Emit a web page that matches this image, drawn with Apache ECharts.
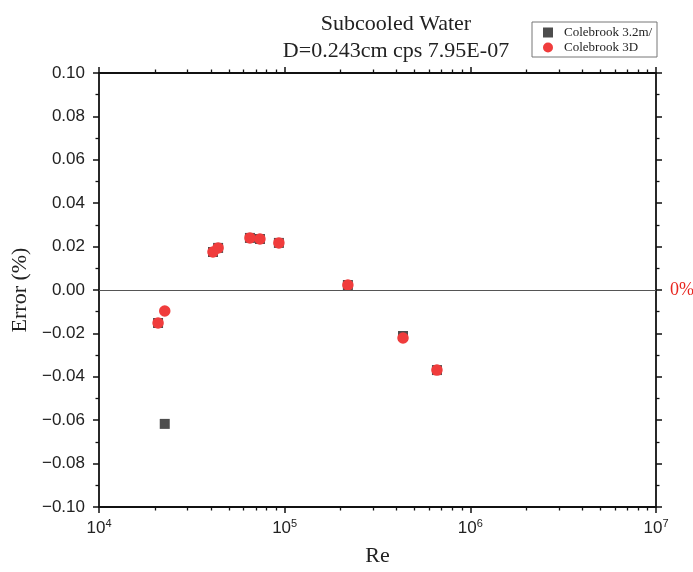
<!DOCTYPE html>
<html><head><meta charset="utf-8">
<script src="https://cdn.jsdelivr.net/npm/echarts@6/dist/echarts.min.js"></script>
<style>html,body{margin:0;padding:0;background:#fff}#c{width:693px;height:572px}</style>
</head><body><div id="c"></div>
<script>
const re = [20800, 22600, 41100, 43800, 65000, 73600, 93100, 219000, 434000, 661000];
const err32 = [-0.0152, -0.0617, 0.0175, 0.0194, 0.0240, 0.0235, 0.0217, 0.0023, -0.0212, -0.0369];
const err3D = [-0.0152, -0.0097, 0.0175, 0.0194, 0.0240, 0.0235, 0.0217, 0.0023, -0.0221, -0.0369];
const seriesNames = ['Colebrook 3.2m/s', 'Colebrook 3D'];
const titleLines = ['Subcooled Water', 'D=0.243cm cps 7.95E-07'];

const serif = 'Liberation Serif';
const sans = 'Liberation Sans';
const axisCol = '#111';
const chart = echarts.init(document.getElementById('c'));
const pair = ys => re.map((x, i) => [x, ys[i]]);
const tickCommon = {show: true, inside: false, length: 6, lineStyle: {color: axisCol, width: 1.5}};
const minorCommon = {show: true, length: 3.5, lineStyle: {color: axisCol, width: 1.3}};
const lineCommon = {show: true, onZero: false, lineStyle: {color: axisCol, width: 1.8}};
chart.setOption({
  animation: false,
  title: {text: titleLines.join('\n'), left: 391, top: 6, textAlign: 'center',
    textStyle: {fontFamily: serif, fontSize: 22, fontWeight: 'normal', color: '#222', lineHeight: 27}},
  legend: {orient: 'vertical', left: 532, top: 22, borderColor: '#777', borderWidth: 1,
    padding: [3, 0, 2, 11], itemGap: 0, itemWidth: 10, itemHeight: 10,
    textStyle: {fontFamily: serif, fontSize: 13, lineHeight: 15, color: '#222', width: 93, overflow: 'truncate', ellipsis: '', padding: [0, 0, 0, 6]},
    data: [{name: seriesNames[0], icon: 'rect'}, {name: seriesNames[1], icon: 'circle'}]},
  grid: {left: 99, right: 37, top: 73, bottom: 65, outerBoundsMode: 'none', containLabel: false},
  xAxis: [{type: 'log', logBase: 10, min: 1e4, max: 1e7, position: 'bottom',
    name: 'Re', nameLocation: 'middle', nameGap: 38,
    nameTextStyle: {fontFamily: serif, fontSize: 22, color: '#222'},
    axisLine: lineCommon,
    axisTick: tickCommon, minorTick: Object.assign({splitNumber: 9}, minorCommon), splitLine: {show: false},
    axisLabel: {margin: 11, formatter: v => '{b|10}{s|' + Math.round(Math.log10(v)) + '}',
      rich: {b: {fontFamily: sans, fontSize: 17, color: '#222'}, s: {fontFamily: sans, fontSize: 11, color: '#222', padding: [0, 0, 10, 0]}}}},
    {type: 'log', logBase: 10, min: 1e4, max: 1e7, position: 'top',
    axisLine: lineCommon,
    axisTick: tickCommon, minorTick: Object.assign({splitNumber: 9}, minorCommon), splitLine: {show: false}, axisLabel: {show: false}}],
  yAxis: [{type: 'value', min: -0.1, max: 0.1, interval: 0.02, position: 'left',
    name: 'Error (%)', nameLocation: 'middle', nameGap: 62, nameRotate: 90,
    nameTextStyle: {fontFamily: serif, fontSize: 22, color: '#222'},
    axisLine: lineCommon,
    axisTick: tickCommon, minorTick: Object.assign({splitNumber: 2}, minorCommon), splitLine: {show: false},
    axisLabel: {margin: 14, fontFamily: sans, fontSize: 17, color: '#222',
      formatter: v => v.toFixed(2).replace('-', '\u2212')}},
    {type: 'value', min: -0.1, max: 0.1, interval: 0.02, position: 'right',
    axisLine: lineCommon,
    axisTick: tickCommon, minorTick: Object.assign({splitNumber: 2}, minorCommon), splitLine: {show: false},
    axisLabel: {margin: 14, fontFamily: serif, fontSize: 18, color: '#e8261f',
      formatter: v => Math.abs(v) < 1e-9 ? '0%' : ''}}],
  series: [
    {name: seriesNames[0], type: 'scatter', symbol: 'rect', symbolSize: 10, itemStyle: {color: '#4d4d4d', opacity: 1},
      data: pair(err32), z: 3,
      markLine: {silent: true, symbol: 'none', label: {show: false},
        lineStyle: {color: '#555', width: 1.2, type: 'solid'}, data: [{yAxis: 0}]}},
    {name: seriesNames[1], type: 'scatter', symbol: 'circle', symbolSize: 11.5, itemStyle: {color: '#f03c3c', opacity: 1},
      data: pair(err3D), z: 4}
  ]
});
</script></body></html>
